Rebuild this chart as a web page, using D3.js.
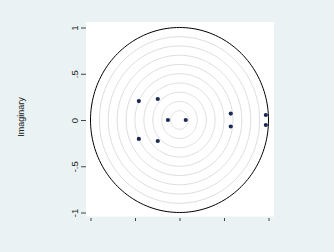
<!DOCTYPE html>
<html>
<head>
<meta charset="utf-8">
<script src="https://cdn.jsdelivr.net/npm/d3@7"></script>
<style>
  body { margin: 0; background: #eaf2f3; }
  text { font-family: "Liberation Sans", Arial, sans-serif; }
</style>
</head>
<body>
<div id="chart"></div>
<script>
let WIDTH = 334
let HEIGHT = 252

// eigenvalues (real, imaginary)
let realPart = [-0.457, -0.457, -0.244, -0.244, -0.13, 0.07, 0.576, 0.576, 0.97, 0.97]
let imagPart = [0.205, -0.205, 0.227, -0.227, 0, 0, 0.07, -0.07, 0.054, -0.054]
let ringRadii = [0.1, 0.2, 0.3, 0.4, 0.5, 0.6, 0.7, 0.8, 0.9]
let yTicks = [-1, -0.5, 0, 0.5, 1]
let yTickLabels = ['-1', '-.5', '0', '.5', '1']
let xTicks = [-1, -0.5, 0, 0.5, 1]

let svg = d3.select('#chart')
    .append('svg')
    .attr('width', WIDTH)
    .attr('height', HEIGHT)

svg.append('rect')
    .attr('width', WIDTH)
    .attr('height', HEIGHT)
    .attr('fill', '#eaf2f3')

let x = d3.scaleLinear().domain([-1, 1]).range([90.5, 268.5])
let y = d3.scaleLinear().domain([-1, 1]).range([212.5, 27.5])

// plot region
svg.append('rect')
    .attr('x', 86)
    .attr('y', 22)
    .attr('width', 188)
    .attr('height', 194.5)
    .attr('fill', 'white')

let angles = d3.range(0, 361, 2).map(d => d * Math.PI / 180)
let ring = r => d3.line()
    .x(a => x(r * Math.cos(a)))
    .y(a => y(r * Math.sin(a)))(angles)

svg.append('g')
    .selectAll('path')
    .data(ringRadii)
    .join('path')
    .attr('d', ring)
    .attr('fill', 'none')
    .attr('stroke', '#d4d4d4')
    .attr('stroke-width', 0.8)

svg.append('path')
    .attr('d', ring(1))
    .attr('fill', 'none')
    .attr('stroke', 'black')
    .attr('stroke-width', 1)

svg.append('g')
    .selectAll('circle')
    .data(realPart)
    .join('circle')
    .attr('cx', d => x(d))
    .attr('cy', (d, i) => y(imagPart[i]))
    .attr('r', 2.1)
    .attr('fill', '#1a2a52')

// y axis, labels rotated like Stata
let yAxis = d3.axisLeft(y)
    .tickValues(yTicks)
    .tickSize(5)
    .tickFormat((d, i) => yTickLabels[i])
let gy = svg.append('g')
    .attr('transform', 'translate(86,0)')
    .call(yAxis)
gy.select('.domain').remove()
gy.selectAll('line').attr('stroke', '#444')
gy.selectAll('text')
    .attr('font-size', 9.5)
    .attr('fill', '#222')
    .attr('text-anchor', 'middle')
    .attr('x', 0)
    .attr('y', 0)
    .attr('dy', 0)
    .attr('transform', 'translate(-8,0) rotate(-90)')

// x axis (no labels)
let xAxis = d3.axisBottom(x)
    .tickValues(xTicks)
    .tickSize(3)
    .tickFormat('')
let gx = svg.append('g')
    .attr('transform', 'translate(0,218)')
    .call(xAxis)
gx.select('.domain').remove()
gx.selectAll('line').attr('stroke', '#444')

svg.append('text')
    .attr('transform', 'translate(24,117) rotate(-90)')
    .attr('text-anchor', 'middle')
    .attr('font-size', 9)
    .attr('fill', '#222')
    .text('Imaginary')
</script>
</body>
</html>
